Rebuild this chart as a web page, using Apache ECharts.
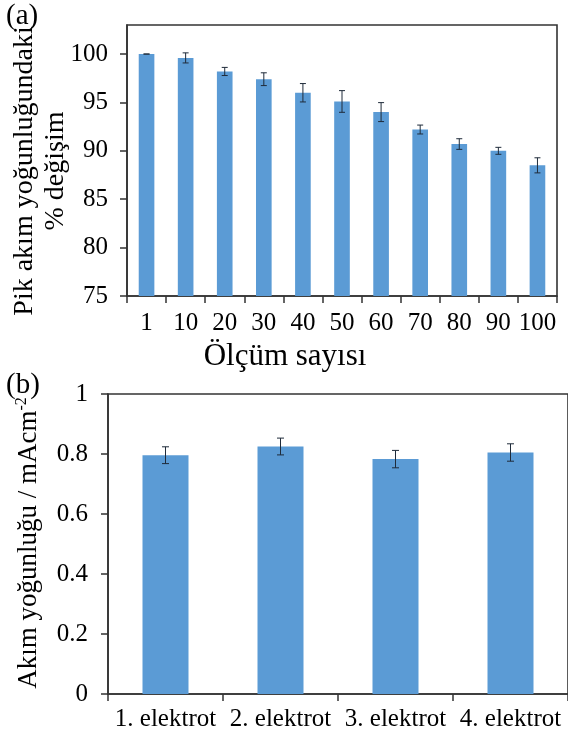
<!DOCTYPE html>
<html>
<head>
<meta charset="utf-8">
<script src="https://cdn.jsdelivr.net/npm/echarts@6/dist/echarts.min.js"></script>
<style>
  html, body { margin: 0; padding: 0; background: #fff; }
  #chart { width: 568px; height: 737px; }
</style>
</head>
<body>
<div id="chart"></div>
<script>
// (a) peak current change over repeated measurements
const countLabels = ['1', '10', '20', '30', '40', '50', '60', '70', '80', '90', '100'];
const peakPct = [100.0, 99.6, 98.2, 97.4, 96.0, 95.1, 94.0, 92.2, 90.7, 90.0, 88.5];
const peakErr = [0, 0.52, 0.42, 0.66, 0.95, 1.12, 0.98, 0.46, 0.55, 0.36, 0.78];
const pctTicks = [75, 80, 85, 90, 95, 100];

// (b) current density of four electrodes
const electrodes = ['1. elektrot', '2. elektrot', '3. elektrot', '4. elektrot'];
const density = [0.796, 0.825, 0.783, 0.805];
const densityErr = [0.028, 0.028, 0.029, 0.029];

const FONT = "'Liberation Serif', 'DejaVu Serif', serif";
const BAR = '#5B9BD5';
const INK = '#1f2b3a';
const AXIS = '#333333';

function errData(vals, errs) {
  return vals.map((v, i) => [i, v - errs[i], v + errs[i]]);
}

function errRender(cap) {
  return function (params, api) {
    const lo = api.coord([api.value(0), api.value(1)]);
    const hi = api.coord([api.value(0), api.value(2)]);
    const x = lo[0];
    const st = { stroke: INK, lineWidth: 1 };
    return {
      type: 'group',
      children: [
        { type: 'line', shape: { x1: x, y1: lo[1], x2: x, y2: hi[1] }, style: st },
        { type: 'line', shape: { x1: x - cap, y1: lo[1], x2: x + cap, y2: lo[1] }, style: st },
        { type: 'line', shape: { x1: x - cap, y1: hi[1], x2: x + cap, y2: hi[1] }, style: st }
      ]
    };
  };
}

const tickLabel = { fontFamily: FONT, fontSize: 25, color: '#000' };
const axisLine = { show: true, lineStyle: { color: AXIS, width: 1.6 } };
const axisTick = { show: true, inside: false, length: 7, lineStyle: { color: AXIS, width: 1.5 } };

const chart = echarts.init(document.getElementById('chart'), null, { renderer: 'canvas' });

chart.setOption({
  animation: false,
  backgroundColor: '#fff',
  grid: [
    { left: 127, top: 25, width: 430, height: 271, show: true, borderColor: AXIS, borderWidth: 1.6, backgroundColor: 'transparent' },
    { left: 108, top: 394, width: 461, height: 300, show: true, borderColor: AXIS, borderWidth: 1.6, backgroundColor: 'transparent' }
  ],
  xAxis: [
    {
      type: 'category', gridIndex: 0, data: countLabels,
      axisLine, axisTick: Object.assign({}, axisTick, { alignWithLabel: false }),
      axisLabel: Object.assign({}, tickLabel, { margin: 15, interval: 0 }),
      splitLine: { show: false }
    },
    {
      type: 'category', gridIndex: 1, data: electrodes,
      axisLine, axisTick: Object.assign({}, axisTick, { alignWithLabel: false }),
      axisLabel: Object.assign({}, tickLabel, { margin: 13, interval: 0 }),
      splitLine: { show: false }
    }
  ],
  yAxis: [
    {
      type: 'value', gridIndex: 0, min: 75, max: 103,
      axisLine, axisTick: Object.assign({}, axisTick, { customValues: pctTicks }),
      axisLabel: Object.assign({}, tickLabel, { margin: 19, customValues: pctTicks }),
      splitLine: { show: false }
    },
    {
      type: 'value', gridIndex: 1, min: 0, max: 1, interval: 0.2,
      axisLine, axisTick,
      axisLabel: Object.assign({}, tickLabel, { margin: 20 }),
      splitLine: { show: false }
    }
  ],
  series: [
    {
      type: 'bar', xAxisIndex: 0, yAxisIndex: 0, data: peakPct,
      barWidth: '40%', itemStyle: { color: BAR }, z: 2
    },
    {
      type: 'custom', xAxisIndex: 0, yAxisIndex: 0,
      data: errData(peakPct, peakErr), renderItem: errRender(3), z: 5,
      encode: { x: 0, y: [1, 2] }
    },
    {
      type: 'bar', xAxisIndex: 1, yAxisIndex: 1, data: density,
      barWidth: '40%', itemStyle: { color: BAR }, z: 2
    },
    {
      type: 'custom', xAxisIndex: 1, yAxisIndex: 1,
      data: errData(density, densityErr), renderItem: errRender(3.5), z: 5,
      encode: { x: 0, y: [1, 2] }
    }
  ],
  graphic: [
    { type: 'text', left: 6, top: 2, style: { text: '(a)', font: '29px ' + FONT, fill: '#000' } },
    { type: 'text', left: 6, top: 371, style: { text: '(b)', font: '29px ' + FONT, fill: '#000' } },
    {
      type: 'text', x: 285, y: 357,
      style: { text: 'Ölçüm sayısı', font: '31px ' + FONT, fill: '#000', align: 'center', verticalAlign: 'middle' }
    },
    {
      type: 'text', x: 25, y: 171, rotation: Math.PI / 2,
      style: { text: 'Pik akım yoğunluğundaki', font: '28px ' + FONT, fill: '#000', align: 'center', verticalAlign: 'middle' }
    },
    {
      type: 'text', x: 56, y: 171, rotation: Math.PI / 2,
      style: { text: '% değişim', font: '28px ' + FONT, fill: '#000', align: 'center', verticalAlign: 'middle' }
    },
    {
      type: 'text', x: 29, y: 543, rotation: Math.PI / 2,
      style: {
        rich: {
          t: { font: '27px ' + FONT, fill: '#000' },
          s: { font: '16px ' + FONT, fill: '#000', verticalAlign: 'top', padding: [0, 0, 14, 0] }
        },
        text: '{t|Akım yoğunluğu / mAcm}{s|-2}', align: 'center', verticalAlign: 'middle'
      }
    }
  ]
});
</script>
</body>
</html>
